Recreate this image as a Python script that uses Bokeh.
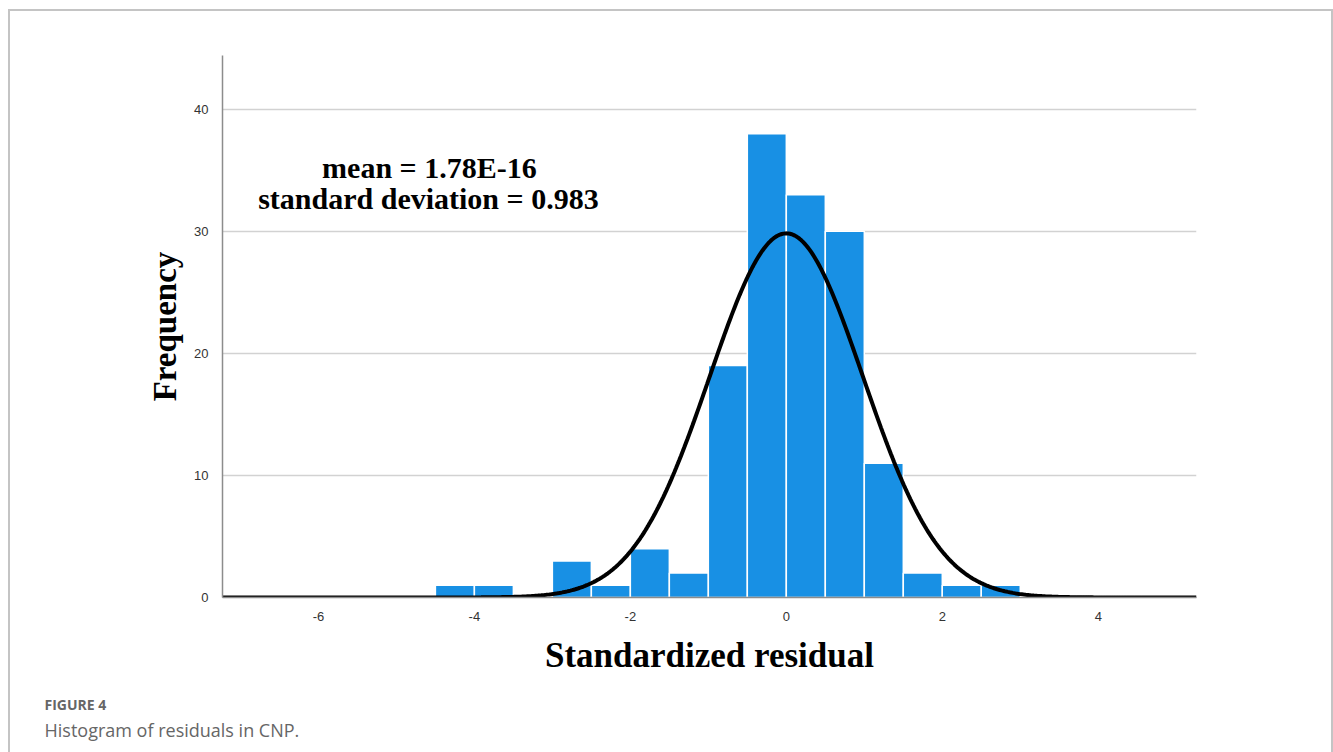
import numpy as np
from bokeh.plotting import figure
from bokeh.models import Range1d, FixedTicker, Label, Title
from bokeh.embed import file_html
from bokeh.resources import INLINE

# Data
bin_left = [-4.5, -4.0, -3.0, -2.5, -2.0, -1.5, -1.0, -0.5, 0.0, 0.5, 1.0, 1.5, 2.0, 2.5]
bin_width = 0.5
counts = [1, 1, 3, 1, 4, 2, 19, 38, 33, 30, 11, 2, 1, 1]
mean_val = 1.78e-16
sd_val = 0.983
x_ticks = [-6, -4, -2, 0, 2, 4]
x_tick_labels = ["-6", "-4", "-2", "0", "2", "4"]
y_ticks = [0, 10, 20, 30, 40]

bin_right = [b + bin_width for b in bin_left]
n_total = sum(counts)

# Fitted normal curve from the stated mean / sd
xs = np.linspace(-7.23, 5.26, 600)
ys = n_total * bin_width / (sd_val * np.sqrt(2 * np.pi)) * np.exp(-0.5 * ((xs - mean_val) / sd_val) ** 2)

W, H = 1333, 752
FL, FR, FT, FB = 222, 1196, 55, 597
p = figure(width=W, height=H, output_backend="svg", toolbar_location=None,
           x_range=Range1d(-7.23, 5.26), y_range=Range1d(0, 44.4),
           min_border_left=FL, min_border_right=W - FR,
           min_border_top=FT, min_border_bottom=H - FB)
p.outline_line_color = None
p.background_fill_color = "white"
p.border_fill_color = None
line_col = "#c4c4c4"
grad = "linear-gradient(%s,%s)" % (line_col, line_col)
p.styles = {
    "background-color": "white",
    "background-image": ", ".join([grad] * 3),
    "background-position": "8px 9px, 8px 9px, 1331px 9px",
    "background-size": "1325px 2px, 2px 760px, 2px 760px",
    "background-repeat": "no-repeat",
}

p.xgrid.grid_line_color = None
p.ygrid.grid_line_color = "#d2d2d2"
p.ygrid.grid_line_width = 1.5
p.ygrid.ticker = FixedTicker(ticks=[10, 20, 30, 40])

for ax in (p.xaxis[0], p.yaxis[0]):
    ax.axis_line_color = "#8c8c8c"
    ax.axis_line_width = 1.5
    ax.major_tick_line_color = None
    ax.minor_tick_line_color = None
    ax.major_label_text_font = "Liberation Sans"
    ax.major_label_text_font_size = "13px"
    ax.major_label_text_color = "#333333"
    ax.major_label_standoff = 8
    ax.axis_label_text_font = "Liberation Serif"
    ax.axis_label_text_font_style = "bold"
    ax.axis_label_text_color = "black"
p.xaxis.ticker = FixedTicker(ticks=x_ticks)
p.xaxis.major_label_overrides = {t: s for t, s in zip(x_ticks, x_tick_labels)}
p.yaxis.ticker = FixedTicker(ticks=y_ticks)

p.xaxis.axis_label = "Standardized residual"
p.xaxis.axis_label_text_font_size = "35px"
p.xaxis.axis_label_standoff = 12
p.yaxis.axis_label = "Frequency"
p.yaxis.axis_label_text_font_size = "33px"
p.yaxis.axis_label_standoff = 8

p.quad(left=bin_left, right=bin_right, bottom=0, top=counts,
       fill_color="#1890e4", line_color="white", line_width=1.5)
p.line(xs, ys, line_color="black", line_width=4)

def px2x(px):
    return (px - 786) / 78.0

def py2y(py):
    return (597 - py) / 12.2

serif = "Liberation Serif"
p.add_layout(Label(x=px2x(429), y=py2y(167), text="mean = 1.78E-16", text_font=serif,
                   text_font_style="bold", text_font_size="30px", text_align="center",
                   text_baseline="middle", text_color="black"))
p.add_layout(Label(x=px2x(428), y=py2y(198), text="standard deviation = 0.983", text_font=serif,
                   text_font_style="bold", text_font_size="30px", text_align="center",
                   text_baseline="middle", text_color="black"))

t0 = Title(text=" ", text_font_size="1px", standoff=11)
t1 = Title(text="FIGURE 4", align="left", offset=44 - FL, text_font="Open Sans",
           text_font_style="bold", text_font_size="14px", text_color="#666666", standoff=3)
t2 = Title(text="Histogram of residuals in CNP.", align="left", offset=44 - FL, text_font="Open Sans",
           text_font_style="normal", text_font_size="18px", text_color="#666666", standoff=0)
p.add_layout(t0, "below")
p.add_layout(t1, "below")
p.add_layout(t2, "below")

open("out.html", "w").write(file_html(p, INLINE))
